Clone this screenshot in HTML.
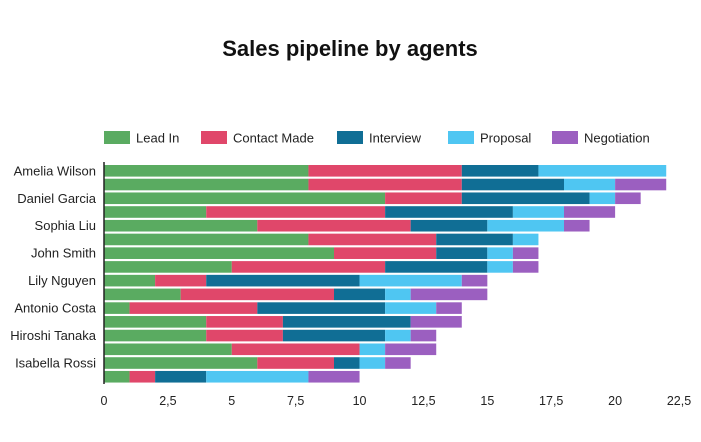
<!DOCTYPE html>
<html><head><meta charset="utf-8"><style>
body{margin:0;background:#fff;font-family:"Liberation Sans",sans-serif;}
</style></head><body>
<svg id="c" width="701" height="437" xmlns="http://www.w3.org/2000/svg">
<text x="350" y="56" text-anchor="middle" font-size="22" font-weight="bold" fill="#111">Sales pipeline by agents</text>
<g id="legend"></g>
<g id="bars"></g>
<g id="axis"></g>
</svg>
<script>
const series = ["Lead In","Contact Made","Interview","Proposal","Negotiation"];
const colors = ["#5aab61","#e0476a","#106e95","#4fc6f2","#9b5fc0"];
const agentLabels = ["Amelia Wilson","Daniel Garcia","Sophia Liu","John Smith","Lily Nguyen","Antonio Costa","Hiroshi Tanaka","Isabella Rossi"];
const leadIn =      [8,8,11,4,6,8,9,5,2,3,1,4,4,5,6,1];
const contactMade = [6,6,3,7,6,5,4,6,2,6,5,3,3,5,3,1];
const interview =   [3,4,5,5,3,3,2,4,6,2,5,5,4,0,1,2];
const proposal =    [5,2,1,2,3,1,1,1,4,1,2,0,1,1,1,4];
const negotiation = [0,2,1,2,1,0,1,1,1,3,1,2,1,2,1,2];
const ticks = [0,2.5,5,7.5,10,12.5,15,17.5,20,22.5];
const tickLabels = ["0","2,5","5","7,5","10","12,5","15","17,5","20","22,5"];
const NS="http://www.w3.org/2000/svg";
const x0=104,x1=679,xmax=22.5;
const xs=v=>x0+(x1-x0)*v/xmax;
const y0=165,pitch=13.73,bh=11.6;
const ys=i=>y0+i*pitch;
function mk(t,a,p){const e=document.createElementNS(NS,t);for(const k in a)e.setAttribute(k,a[k]);p.appendChild(e);return e;}
const data=[leadIn,contactMade,interview,proposal,negotiation];
const bars=document.getElementById('bars');
for(let i=0;i<leadIn.length;i++){
  let acc=0;
  for(let s=0;s<5;s++){
    const v=data[s][i];
    if(v>0){
      const r=mk('rect',{x:xs(acc),y:ys(i),width:xs(acc+v)-xs(acc),height:bh,fill:colors[s]},bars);
      
      
    }
    acc+=v;
  }
}
agentLabels.forEach((n,j)=>{
  const t=mk('text',{x:96,y:ys(j*2)+bh/2+4.5,'text-anchor':'end','font-size':13,fill:'#222'},bars);
  t.textContent=n;
  
  
});
const ax=document.getElementById('axis');
const al=mk('line',{x1:x0,x2:x0,y1:162,y2:384,stroke:'#222','stroke-width':1.5},ax);


ticks.forEach((t,k)=>{
  const e=mk('text',{x:xs(t),y:405,'text-anchor':'middle','font-size':12.5,fill:'#222'},ax);
  e.textContent=tickLabels[k];
  
  
});
const lg=document.getElementById('legend');
const lx=[104,201,337,448,552];
series.forEach((s,k)=>{
  const g=mk('g',{},lg);
  
  
  mk('rect',{x:lx[k],y:131,width:26,height:13,fill:colors[k]},g);
  const t=mk('text',{x:lx[k]+32,y:142.5,'font-size':13,fill:'#222'},g);
  t.textContent=s;
});
</script>
</body></html>
